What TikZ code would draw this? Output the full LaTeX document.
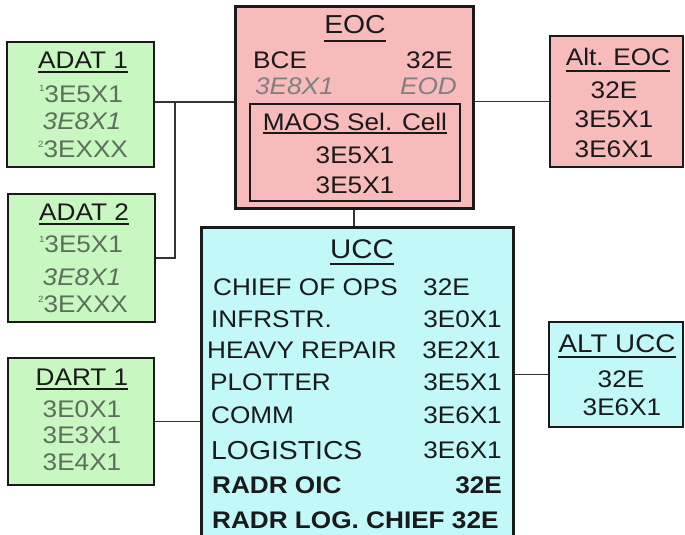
\documentclass[tikz,border=0pt]{standalone}
\usepackage{fontspec}
\setmainfont{Liberation Sans}[FakeStretch=1.09]
\definecolor{gfill}{HTML}{C9F7C1}
\definecolor{pfill}{HTML}{F7BBBB}
\definecolor{cfill}{HTML}{C2F8F8}
\definecolor{gtxt}{HTML}{5E6E5E}
\definecolor{itxt}{HTML}{808080}
\definecolor{ink}{HTML}{1A1A1A}
\definecolor{wire}{HTML}{333333}
\newcommand\fsz{\fontsize{24}{28}\selectfont}
\newcommand\supnum[1]{\raisebox{10pt}{\fontsize{9}{9}\selectfont #1}}
\tikzset{
  box/.style={draw=ink, inner sep=0pt, line width=2pt},
  thickbox/.style={box, line width=3pt},
  txt/.style={inner sep=0pt, anchor=base, font=\fsz, text=ink},
  lt/.style={txt, anchor=base west},
  rt/.style={txt, anchor=base east},
  gray/.style={text=gtxt},
  ital/.style={text=itxt, font=\fsz\itshape},
  uline/.style={draw=ink, line width=1.5pt},
  wirel/.style={draw=wire, line width=1.5pt},
}
\begin{document}
\begin{tikzpicture}[x=1pt,y=-1pt]
\useasboundingbox (0,0) rectangle (685,535);
\clip (0,0) rectangle (685,535);
\fill[white] (0,0) rectangle (685,535);

% boxes
\node[box, fill=gfill, minimum width=147, minimum height=125] (ADAT1) at (80.5,104.5) {};
\node[box, fill=gfill, minimum width=147, minimum height=128] (ADAT2) at (81.5,257.5) {};
\node[box, fill=gfill, minimum width=146, minimum height=127] (DART1) at (81,421.5) {};
\node[thickbox, fill=pfill, minimum width=238, minimum height=201] (EOC) at (354,107.5) {};
\node[box, line width=2.5pt, fill=pfill, minimum width=210, minimum height=97] (MAOS) at (355,152.5) {};
\node[box, line width=1.5pt, fill=pfill, minimum width=133, minimum height=131] (AEOC) at (616.5,101.5) {};
\node[thickbox, fill=cfill, minimum width=312, minimum height=320] (UCC) at (357,387) {};
\node[box, fill=cfill, minimum width=134, minimum height=105] (AUCC) at (616,374.5) {};

% connectors
\coordinate (j1) at (175,102);
\coordinate (j2) at (175,258);
\draw[wirel] (ADAT1.east |- j1) -- (EOC.west |- j1);
\draw[wirel] (j1) -- (j2) -- (j2 -| ADAT2.east);
\draw[wirel] (EOC.south) -- (EOC.south |- UCC.north);
\draw[wirel] (AEOC.west) -- (AEOC.west -| EOC.east);
\draw[wirel] (AUCC.west) -- (AUCC.west -| UCC.east);
\draw[wirel] (DART1.east) -- (DART1.east -| UCC.west);

% ADAT 1
\node[txt] (a1t) at (83,68) {ADAT 1};
\draw[uline] ([yshift=-4pt]a1t.base west) -- ([yshift=-4pt]a1t.base east);
\node[txt, gray] (a1a) at (81,102) {\supnum{1}3E5X1};
\node[txt, gray, font=\fsz\itshape] (a1b) at (82,129) {3E8X1};
\node[txt, gray] (a1c) at (83,157) {\supnum{2}3EXXX};

% ADAT 2
\node[txt] (a2t) at (84,220) {ADAT 2};
\draw[uline] ([yshift=-4pt]a2t.base west) -- ([yshift=-4pt]a2t.base east);
\node[txt, gray] (a2a) at (81,252) {\supnum{1}3E5X1};
\node[txt, gray, font=\fsz\itshape] (a2b) at (82,285) {3E8X1};
\node[txt, gray] (a2c) at (83,312) {\supnum{2}3EXXX};

% DART 1
\node[txt] (d1t) at (82,385) {DART 1};
\draw[uline] ([yshift=-4pt]d1t.base west) -- ([yshift=-4pt]d1t.base east);
\node[txt, gray] (d1a) at (82,417) {3E0X1};
\node[txt, gray] (d1b) at (82,443) {3E3X1};
\node[txt, gray] (d1c) at (82,470) {3E4X1};

% EOC
\node[txt, font=\fontsize{26}{30}\selectfont] (et) at (355,34) {EOC};
\draw[uline] ([yshift=-7pt]et.base west) -- ([yshift=-7pt]et.base east);
\node[lt] (e1) at (253,68) {BCE};
\node[lt] (e2) at (406,68) {32E};
\node[lt, ital] (e3) at (255,94) {3E8X1};
\node[rt, ital] (e4) at (457,94) {EOD};
\node[txt] (mt) at (355,130) {MAOS Sel. Cell};
\draw[uline] ([yshift=-3pt]mt.base west) -- ([yshift=-3pt]mt.base east);
\node[txt] (m1) at (355,163) {3E5X1};
\node[txt] (m2) at (355,193) {3E5X1};

% Alt. EOC
\node[txt] (at) at (618,66) {Alt. EOC};
\draw[uline] ([yshift=-5pt]at.base west) -- ([yshift=-5pt]at.base east);
\node[txt] (a1) at (614,98) {32E};
\node[txt] (a2) at (614,127) {3E5X1};
\node[txt] (a3) at (614,157) {3E6X1};

% UCC
\node[txt, font=\fontsize{27}{31}\selectfont] (ut) at (362,258) {UCC};
\draw[uline] ([yshift=-6pt]ut.base west) -- ([yshift=-6pt]ut.base east);
\node[lt] (u1) at (213,295) {CHIEF OF OPS};
\node[lt] (u1r) at (423,295) {32E};
\node[lt] (u2) at (211,327) {INFRSTR.};
\node[rt] (u2r) at (502,327) {3E0X1};
\node[lt] (u3) at (207,358) {HEAVY REPAIR};
\node[rt] (u3r) at (501,358) {3E2X1};
\node[lt] (u4) at (210,390) {PLOTTER};
\node[rt] (u4r) at (502,390) {3E5X1};
\node[lt] (u5) at (211,423) {COMM};
\node[rt] (u5r) at (502,423) {3E6X1};
\node[lt, font=\fontsize{26}{30}\selectfont] (u6) at (211,459) {LOGISTICS};
\node[rt] (u6r) at (502,458) {3E6X1};
\node[lt, font=\fsz\bfseries] (u7) at (212,493) {RADR OIC};
\node[rt, font=\fsz\bfseries] (u7r) at (502,493) {32E};
\node[lt, font=\fsz\bfseries] (u8) at (212,528) {RADR LOG. CHIEF 32E};

% ALT UCC
\node[txt, font=\fontsize{25.5}{30}\selectfont] (ct) at (617,352) {ALT UCC};
\draw[uline] ([yshift=-5pt]ct.base west) -- ([yshift=-5pt]ct.base east);
\node[txt] (c1) at (621,387) {32E};
\node[txt] (c2) at (622,415) {3E6X1};
\end{tikzpicture}
\end{document}
